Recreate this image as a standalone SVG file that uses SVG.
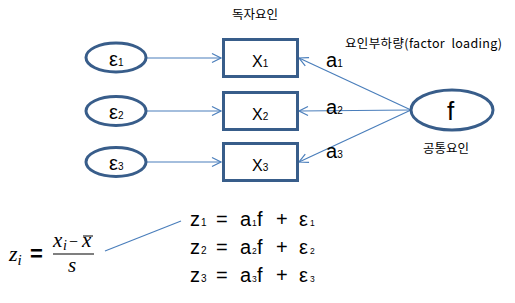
<svg xmlns="http://www.w3.org/2000/svg" width="515" height="303" viewBox="0 0 515 303">
<style>
.shape{fill:#fff;stroke:#385D8A;stroke-width:3}
.conn{stroke:#4A7EBB;stroke-width:1.2;fill:none}
.ko{font-family:"Noto Sans CJK KR","Liberation Sans",sans-serif;font-size:12.5px;fill:#000;white-space:pre}
.t{font-family:"Liberation Sans","DejaVu Sans",sans-serif;fill:#000}
.m{font-family:"Liberation Serif","DejaVu Serif",serif;font-style:italic;fill:#000}
</style>
<defs>
<marker id="ah" markerUnits="userSpaceOnUse" markerWidth="12" markerHeight="12" viewBox="0 0 12 12" refX="10" refY="6" orient="auto">
<path d="M1,1.5 L10,6 L1,10.5" fill="none" stroke="#4A7EBB" stroke-width="1.2"/>
</marker>
</defs>
<g id="connectors">
<line class="conn" x1="147" y1="58" x2="221" y2="58" marker-end="url(#ah)"/>
<line class="conn" x1="147" y1="111" x2="221" y2="111" marker-end="url(#ah)"/>
<line class="conn" x1="147" y1="162" x2="221" y2="162" marker-end="url(#ah)"/>
<line class="conn" x1="411" y1="110" x2="299" y2="58" marker-end="url(#ah)"/>
<line class="conn" x1="411" y1="110" x2="299" y2="111" marker-end="url(#ah)"/>
<line class="conn" x1="411" y1="110" x2="299" y2="162" marker-end="url(#ah)"/>
<line class="conn" x1="105" y1="251" x2="181" y2="221"/>
</g>
<g id="e1"><ellipse class="shape" cx="116" cy="57.5" rx="30" ry="14.5"/><text class="t" x="109" y="66" font-size="20">ε<tspan font-size="10">1</tspan></text></g>
<g id="e2"><ellipse class="shape" cx="116" cy="111" rx="30" ry="14.5"/><text class="t" x="109" y="119" font-size="20">ε<tspan font-size="10">2</tspan></text></g>
<g id="e3"><ellipse class="shape" cx="116" cy="162" rx="30" ry="14.5"/><text class="t" x="109" y="170" font-size="20">ε<tspan font-size="10">3</tspan></text></g>
<g id="x1"><rect class="shape" x="223.5" y="39.5" width="74" height="37"/><text class="t" x="252" y="67" font-size="16">X<tspan font-size="10">1</tspan></text></g>
<g id="x2"><rect class="shape" x="223.5" y="92.5" width="74" height="37"/><text class="t" x="252" y="120" font-size="16">X<tspan font-size="10">2</tspan></text></g>
<g id="x3"><rect class="shape" x="223.5" y="143.5" width="74" height="37"/><text class="t" x="252" y="171" font-size="16">X<tspan font-size="10">3</tspan></text></g>
<g id="f"><ellipse class="shape" cx="452" cy="110" rx="41" ry="20"/><text class="t" x="447" y="120" font-size="26">f</text></g>
<g id="labels">
<text class="ko" x="232" y="19">독자요인</text>
<text class="ko" x="345" y="48" textLength="157" lengthAdjust="spacing">요인부하량(factor  loading)</text>
<text class="ko" x="423" y="153">공통요인</text>
<text class="t" x="326" y="67" font-size="20">a<tspan font-size="10">1</tspan></text>
<text class="t" x="326" y="114" font-size="20">a<tspan font-size="10">2</tspan></text>
<text class="t" x="326" y="158" font-size="20">a<tspan font-size="10">3</tspan></text>
</g>
<g id="formula">
<text class="m" x="9" y="261" font-size="22">z<tspan font-size="15" dy="4">i</tspan></text>
<text class="t" x="30" y="261" font-size="22" font-weight="bold">=</text>
<text class="m" y="247" font-size="21"><tspan x="53">x</tspan><tspan x="63" font-size="14" dy="3">i</tspan><tspan x="69" dy="-3" font-style="normal" font-size="16">−</tspan><tspan x="82">x</tspan></text>
<line x1="83" y1="236" x2="93" y2="236" stroke="#000" stroke-width="1"/>
<line x1="53" y1="254" x2="94" y2="254" stroke="#000" stroke-width="1.2"/>
<text class="m" x="68" y="272" font-size="21">s</text>
</g>
<g id="equations" class="t" font-size="20">
<text y="226"><tspan x="190">z</tspan><tspan x="201" font-size="10">1</tspan><tspan x="216">=</tspan><tspan x="240">a</tspan><tspan x="252" font-size="8.5">1</tspan><tspan x="257">f</tspan><tspan x="276">+</tspan><tspan x="299">ε</tspan><tspan x="310" font-size="8.5">1</tspan></text>
<text y="254"><tspan x="190">z</tspan><tspan x="201" font-size="10">2</tspan><tspan x="216">=</tspan><tspan x="240">a</tspan><tspan x="252" font-size="8.5">2</tspan><tspan x="257">f</tspan><tspan x="276">+</tspan><tspan x="299">ε</tspan><tspan x="310" font-size="8.5">2</tspan></text>
<text y="282"><tspan x="190">z</tspan><tspan x="201" font-size="10">3</tspan><tspan x="216">=</tspan><tspan x="240">a</tspan><tspan x="252" font-size="8.5">3</tspan><tspan x="257">f</tspan><tspan x="276">+</tspan><tspan x="299">ε</tspan><tspan x="310" font-size="8.5">3</tspan></text>
</g>
</svg>
